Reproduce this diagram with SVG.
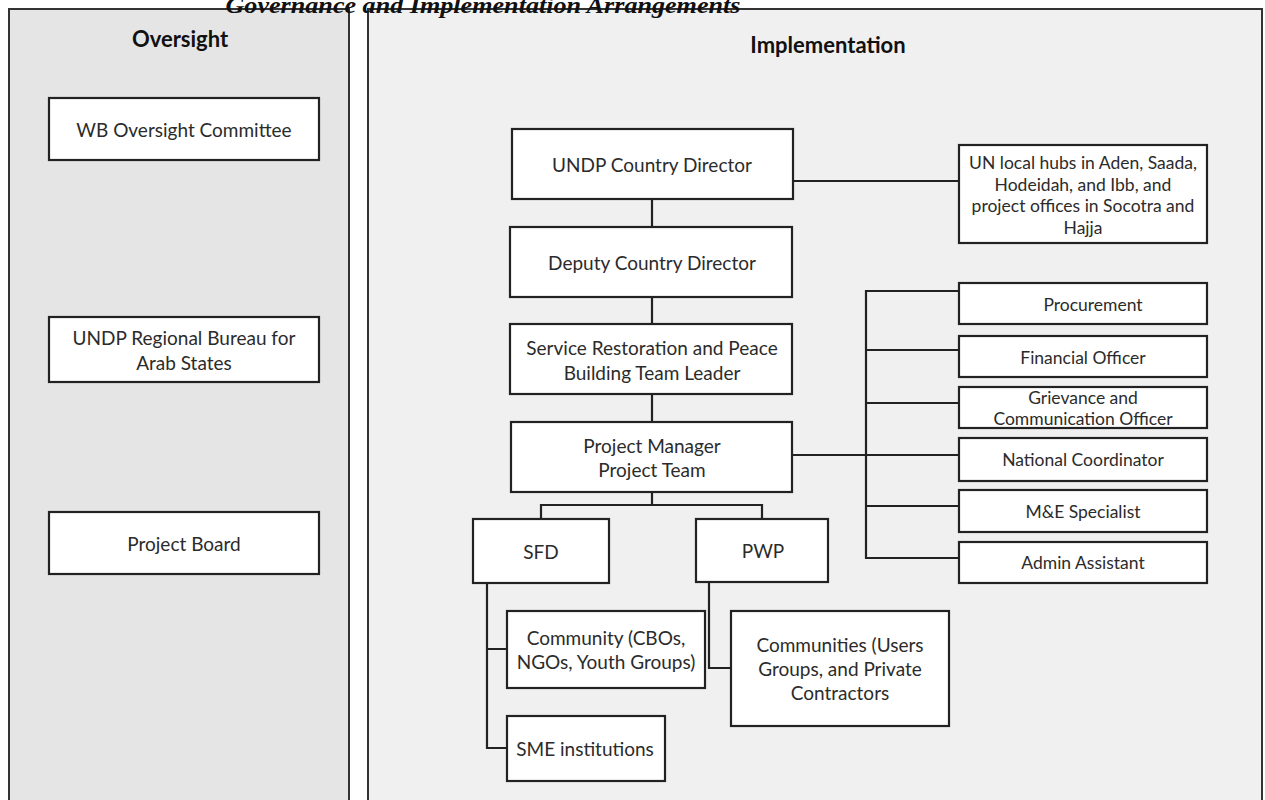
<svg xmlns="http://www.w3.org/2000/svg" width="1265" height="800" viewBox="0 0 1265 800">
<style>
.panel{stroke:#333;stroke-width:2}
.box{fill:#fff;stroke:#222;stroke-width:2.2}
.t{font-family:Lato,"Open Sans","Liberation Sans",sans-serif;font-size:19px;fill:#2b2b2b;text-anchor:middle;dominant-baseline:central}
.s{font-size:17.5px}
.h{font-family:Lato,"Open Sans","Liberation Sans",sans-serif;font-size:22px;font-weight:bold;fill:#111;text-anchor:middle;dominant-baseline:central}
.c{fill:none;stroke:#222;stroke-width:2.2}
</style>
<rect width="1265" height="800" fill="#fff"/>
<g id="oversight-panel">
<path d="M9,802 V9 H349 V802" fill="#e5e5e5" class="panel"/>
<text class="h" x="180" y="38">Oversight</text>
</g>
<g id="implementation-panel">
<path d="M368,802 V9 H1262 V802" fill="#f0f0f0" class="panel"/>
<text class="h" x="828" y="44">Implementation</text>
</g>
<text x="483" y="13" font-family="'Liberation Serif',serif" font-style="italic" font-weight="bold" font-size="24" fill="#111" text-anchor="middle" textLength="515" lengthAdjust="spacingAndGlyphs">Governance and Implementation Arrangements</text>
<g id="connectors">
<path class="c" d="M652,199 V227"/>
<path class="c" d="M652,297 V324"/>
<path class="c" d="M652,394 V422"/>
<path class="c" d="M793,181 H959"/>
<path class="c" d="M792,455 H959"/>
<path class="c" d="M959,291 H866 V558 H959"/>
<path class="c" d="M866,350 H959"/>
<path class="c" d="M866,403 H959"/>
<path class="c" d="M866,506 H959"/>
<path class="c" d="M652,492 V505 M541,519 V505 H762 V519"/>
<path class="c" d="M487,583 V748 H507 M487,649 H507"/>
<path class="c" d="M709,583 V668 H731"/>
</g>
<g id="wb-oversight"><rect class="box" x="49" y="98" width="270" height="62"/><text class="t" x="184" y="129">WB Oversight Committee</text></g>
<g id="undp-regional"><rect class="box" x="49" y="317" width="270" height="65"/><text class="t" x="184" y="337">UNDP Regional Bureau for</text><text class="t" x="184" y="362">Arab States</text></g>
<g id="project-board"><rect class="box" x="49" y="512" width="270" height="62"/><text class="t" x="184" y="543">Project Board</text></g>
<g id="country-director"><rect class="box" x="512" y="129" width="281" height="70"/><text class="t" x="652" y="164">UNDP Country Director</text></g>
<g id="deputy-director"><rect class="box" x="510" y="227" width="282" height="70"/><text class="t" x="652" y="262">Deputy Country Director</text></g>
<g id="team-leader"><rect class="box" x="510" y="324" width="282" height="70"/><text class="t" x="652" y="347">Service Restoration and Peace</text><text class="t" x="652" y="372">Building Team Leader</text></g>
<g id="project-manager"><rect class="box" x="511" y="422" width="281" height="70"/><text class="t" x="652" y="445">Project Manager</text><text class="t" x="652" y="469">Project Team</text></g>
<g id="un-hubs"><rect class="box" x="959" y="145" width="248" height="98"/><text class="t s" x="1083" y="162">UN local hubs in Aden, Saada,</text><text class="t s" x="1083" y="184">Hodeidah, and Ibb, and</text><text class="t s" x="1083" y="205">project offices in Socotra and</text><text class="t s" x="1083" y="227">Hajja</text></g>
<g id="procurement"><rect class="box" x="959" y="283" width="248" height="41"/><text class="t s" x="1093" y="304">Procurement</text></g>
<g id="financial"><rect class="box" x="959" y="336" width="248" height="41"/><text class="t s" x="1083" y="357">Financial Officer</text></g>
<g id="grievance"><rect class="box" x="959" y="387" width="248" height="41"/><text class="t s" x="1083" y="397">Grievance and</text><text class="t s" x="1083" y="418">Communication Officer</text></g>
<g id="national-coordinator"><rect class="box" x="959" y="438" width="248" height="43"/><text class="t s" x="1083" y="459">National Coordinator</text></g>
<g id="me-specialist"><rect class="box" x="959" y="490" width="248" height="42"/><text class="t s" x="1083" y="511">M&amp;E Specialist</text></g>
<g id="admin-assistant"><rect class="box" x="959" y="542" width="248" height="41"/><text class="t s" x="1083" y="562">Admin Assistant</text></g>
<g id="sfd"><rect class="box" x="473" y="519" width="136" height="64"/><text class="t" x="541" y="551">SFD</text></g>
<g id="pwp"><rect class="box" x="696" y="519" width="132" height="63"/><text class="t" x="763" y="550">PWP</text></g>
<g id="community"><rect class="box" x="507" y="611" width="198" height="77"/><text class="t" x="606" y="637">Community (CBOs,</text><text class="t" x="606" y="661">NGOs, Youth Groups)</text></g>
<g id="sme"><rect class="box" x="507" y="716" width="158" height="65"/><text class="t" x="585" y="748">SME institutions</text></g>
<g id="communities"><rect class="box" x="731" y="611" width="218" height="115"/><text class="t" x="840" y="644">Communities (Users</text><text class="t" x="840" y="668">Groups, and Private</text><text class="t" x="840" y="692">Contractors</text></g>
</svg>
